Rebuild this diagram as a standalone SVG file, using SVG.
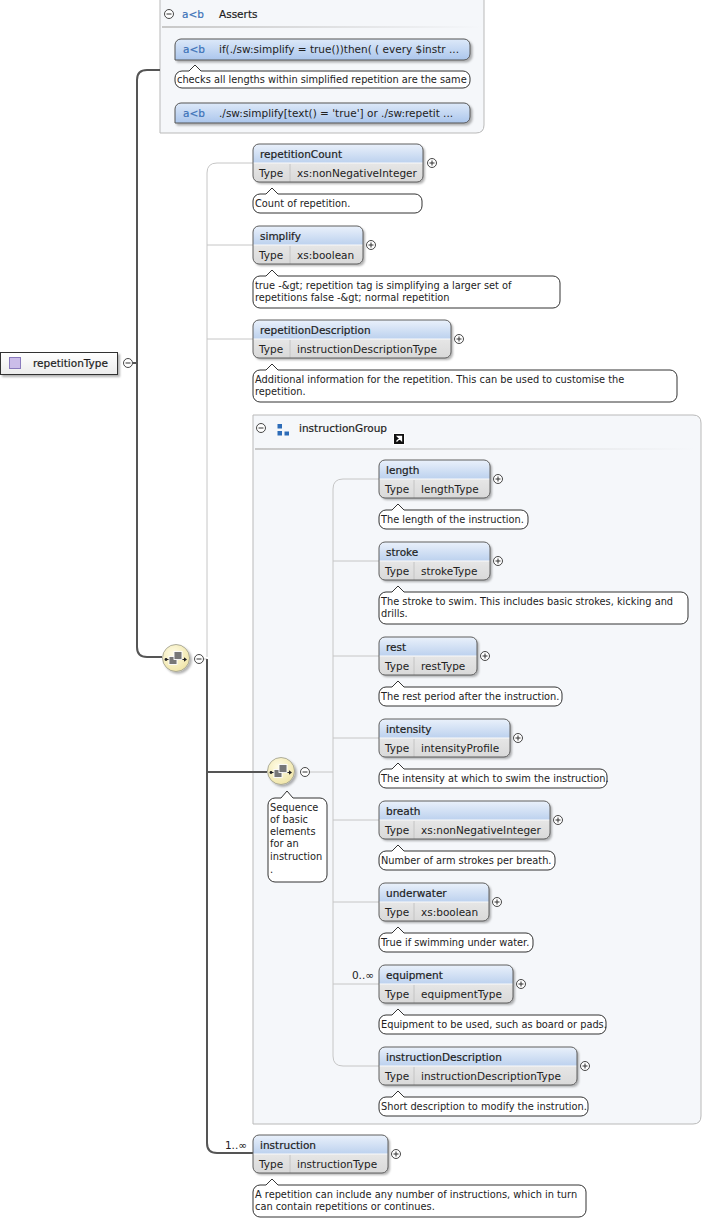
<svg xmlns="http://www.w3.org/2000/svg" width="703" height="1222" viewBox="0 0 703 1222">
<defs>
<linearGradient id="gH" x1="0" y1="0" x2="0" y2="1"><stop offset="0" stop-color="#eaf1fb"/><stop offset="1" stop-color="#bcd1ee"/></linearGradient>
<linearGradient id="gT" x1="0" y1="0" x2="0" y2="1"><stop offset="0" stop-color="#f3f3f3"/><stop offset="1" stop-color="#d9d9d9"/></linearGradient>
<linearGradient id="gA" x1="0" y1="0" x2="0" y2="1"><stop offset="0" stop-color="#dde9f9"/><stop offset="1" stop-color="#abc6ec"/></linearGradient>
<linearGradient id="gR" x1="0" y1="0" x2="0" y2="1"><stop offset="0" stop-color="#ffffff"/><stop offset="1" stop-color="#ececec"/></linearGradient>
<linearGradient id="gS" x1="0" y1="0" x2="1" y2="0"><stop offset="0" stop-color="#c8c8c8"/><stop offset="1" stop-color="#c8c8c8" stop-opacity="0"/></linearGradient>
<radialGradient id="gC" cx="0.4" cy="0.35" r="0.7"><stop offset="0" stop-color="#fffce6"/><stop offset="1" stop-color="#efe4a6"/></radialGradient>
<filter id="sh" x="-10%" y="-20%" width="130%" height="160%"><feDropShadow dx="2" dy="2" stdDeviation="1.2" flood-color="#000" flood-opacity="0.3"/></filter>
<g id="plus"><circle r="4.5" fill="#fff" stroke="#333" stroke-width="0.9"/><path d="M-2.5,0H2.5M0,-2.5V2.5" stroke="#333" stroke-width="1"/></g>
<g id="minus"><circle r="4.5" fill="#fff" stroke="#333" stroke-width="0.9"/><path d="M-2.5,0H2.5" stroke="#333" stroke-width="1"/></g>
<g id="seq">
<circle r="13.5" fill="url(#gC)" stroke="#9a9a8a" stroke-width="0.8" filter="url(#sh)"/>
<path d="M-10,1.5H10" stroke="#222" stroke-width="1"/>
<circle cx="-10" cy="1.5" r="1.4" fill="#222"/><path d="M8,-0.8L11,1.5L8,3.8Z" fill="#222"/>
<rect x="-7" y="-1.5" width="8" height="8" fill="#777" stroke="#fff" stroke-width="0.9"/>
<rect x="-2" y="-6.5" width="8" height="8" fill="#777" stroke="#fff" stroke-width="0.9"/>
</g>
</defs>
<style>
.hd{fill:url(#gH)}
.ty{fill:url(#gT)}
.ol{fill:none;stroke:#5e5e5e;stroke-width:1}
.sp{stroke:#fafafa;stroke-width:1}
.sv{stroke:#c4c4c4;stroke-width:1}
.bub{fill:#fff;stroke:#333;stroke-width:1}
.nm{font-family:"DejaVu Sans",sans-serif;font-size:10.5px;fill:#1e1e1e;stroke:#1e1e1e;stroke-width:0.2}
.tx{font-family:"DejaVu Sans",sans-serif;font-size:10.5px;fill:#222}
.cm{font-family:"DejaVu Sans",sans-serif;font-size:9.8px;fill:#222}
.ab{font-family:"DejaVu Sans",sans-serif;font-size:10.5px;fill:#3c72b8;stroke:#3c72b8;stroke-width:0.2}
.lb{font-family:"DejaVu Sans",sans-serif;font-size:10.5px;fill:#222;text-anchor:end}
.grp{fill:#f5f7fa;stroke:#b9b9b9;stroke-width:1}
.thin{fill:none;stroke:#c6c6c6;stroke-width:1}
.thick{fill:none;stroke:#555;stroke-width:2}
</style>

<!-- group containers -->
<g id="asserts">
<path class="grp" d="M160,-1H484V125Q484,133 476,133H160Z"/>
<use href="#minus" x="169" y="14"/>
<text class="ab" x="182" y="18">a&lt;b</text>
<text class="nm" x="219" y="18">Asserts</text>
<rect x="162" y="26" width="320" height="2" fill="url(#gS)"/>
<g id="assert1">
<path d="M175,60V45A6,6 0 0 1 181,39H464A6,6 0 0 1 470,45V54A6,6 0 0 1 464,60Z" fill="url(#gA)" stroke="#555" filter="url(#sh)"/>
<text class="ab" x="183" y="53">a&lt;b</text>
<text class="tx" x="219" y="53">if(./sw:simplify = true())then( ( every $instr ...</text>
<path class="bub" d="M182,71H189L195,65L201,71H463A7,7 0 0 1 470,78V81A7,7 0 0 1 463,88H182A7,7 0 0 1 175,81V78A7,7 0 0 1 182,71Z"/>
<text class="cm" x="177" y="83">checks all lengths within simplified repetition are the same</text>
</g>
<g id="assert2">
<path d="M175,123V109A6,6 0 0 1 181,103H464A6,6 0 0 1 470,109V117A6,6 0 0 1 464,123Z" fill="url(#gA)" stroke="#555" filter="url(#sh)"/>
<text class="ab" x="183" y="117">a&lt;b</text>
<text class="tx" x="219" y="117">./sw:simplify[text() = 'true'] or ./sw:repetit ...</text>
</g>
</g>

<g id="instructionGroup">
<path class="grp" d="M253,415H693Q701,415 701,423V1116Q701,1124 693,1124H253Z"/>
<use href="#minus" x="261" y="428"/>
<rect x="277.5" y="424" width="4.5" height="4.5" fill="#2d6cb8"/>
<rect x="277.5" y="431" width="4.5" height="4.5" fill="#2d6cb8"/>
<rect x="284.5" y="431.5" width="4.5" height="4" fill="#2d6cb8"/>
<text class="nm" x="299" y="432">instructionGroup</text>
<rect x="393.5" y="433.5" width="11" height="11" fill="#111" stroke="#fff" stroke-width="1"/>
<path d="M396.5,441.5L401,437M397.5,436.5H401.5V440.5Z" stroke="#fff" stroke-width="1.3" fill="#fff"/>
<rect x="255" y="448" width="440" height="2" fill="url(#gS)"/>
</g>

<!-- connectors -->
<g id="connectors">
<path class="thick" d="M160,70H147Q137,70 137,80V647Q137,657 147,657H162"/>
<path class="thick" d="M133,363H137"/>
<path class="thin" d="M204,659H207"/>
<path class="thin" d="M207,657V173Q207,163 217,163H253M207,245H253M207,339H253"/>
<path class="thick" d="M207,659V1143Q207,1153 217,1153H253"/>
<path class="thick" d="M207,772H267"/>
<path class="thin" d="M310,772H333"/>
<path class="thin" d="M379,479H343Q333,479 333,489V1056Q333,1066 343,1066H379M333,561H379M333,656H379M333,738H379M333,820H379M333,902H379M333,984H379"/>
<text class="lb" x="374" y="979">0..∞</text>
<text class="lb" x="247" y="1149">1..∞</text>
</g>

<!-- root -->
<g id="repetitionType">
<rect x="0.5" y="352.5" width="117" height="22" fill="url(#gR)" stroke="#333" filter="url(#sh)"/>
<rect x="9.5" y="357.5" width="11" height="11" fill="#cbbde9" stroke="#8a7bbd"/>
<text class="nm" x="33" y="367">repetitionType</text>
<use href="#minus" x="128" y="363"/>
</g>

<g id="sequence1">
<use href="#seq" x="176" y="658"/>
<use href="#minus" x="199" y="659"/>
</g>

<g id="sequence2">
<use href="#seq" x="281" y="771"/>
<use href="#minus" x="305" y="772"/>
<path class="bub" d="M275,798H281L287,791L293,798H320A7,7 0 0 1 327,805V875A7,7 0 0 1 320,882H275A7,7 0 0 1 268,875V805A7,7 0 0 1 275,798Z"/>
<text class="cm" x="270" y="811">Sequence</text>
<text class="cm" x="270" y="823">of basic</text>
<text class="cm" x="270" y="835">elements</text>
<text class="cm" x="270" y="847">for an</text>
<text class="cm" x="270" y="860">instruction</text>
<text class="cm" x="270" y="873">.</text>
</g>

<g id="repetitionCount">
<rect x="253" y="144" width="170" height="38" rx="6" class="ty" filter="url(#sh)"/>
<path class="hd" d="M253,163V150A6,6 0 0 1 259,144H417A6,6 0 0 1 423,150V163Z"/>
<line class="sp" x1="253" y1="163" x2="423" y2="163"/><line class="sv" x1="290" y1="164" x2="290" y2="182"/>
<rect x="253" y="144" width="170" height="38" rx="6" class="ol"/>
<text class="nm" x="260" y="158">repetitionCount</text>
<text class="tx" x="259" y="177">Type</text><text class="tx" x="297" y="177">xs:nonNegativeInteger</text>
<use href="#plus" x="432" y="163"/>
<path class="bub" d="M260,194H266L272,188L278,194H415A7,7 0 0 1 422,201V206A7,7 0 0 1 415,213H260A7,7 0 0 1 253,206V201A7,7 0 0 1 260,194Z"/>
<text class="cm" x="255" y="207">Count of repetition.</text>
</g>

<g id="simplify">
<rect x="253" y="226" width="110" height="38" rx="6" class="ty" filter="url(#sh)"/>
<path class="hd" d="M253,245V232A6,6 0 0 1 259,226H357A6,6 0 0 1 363,232V245Z"/>
<line class="sp" x1="253" y1="245" x2="363" y2="245"/><line class="sv" x1="290" y1="246" x2="290" y2="264"/>
<rect x="253" y="226" width="110" height="38" rx="6" class="ol"/>
<text class="nm" x="260" y="240">simplify</text>
<text class="tx" x="259" y="259">Type</text><text class="tx" x="297" y="259">xs:boolean</text>
<use href="#plus" x="371" y="245"/>
<path class="bub" d="M260,276H266L272,270L278,276H553A7,7 0 0 1 560,283V301A7,7 0 0 1 553,308H260A7,7 0 0 1 253,301V283A7,7 0 0 1 260,276Z"/>
<text class="cm" x="255" y="289">true -&amp;gt; repetition tag is simplifying a larger set of</text>
<text class="cm" x="255" y="301">repetitions false -&amp;gt; normal repetition</text>
</g>

<g id="repetitionDescription">
<rect x="253" y="320" width="198" height="38" rx="6" class="ty" filter="url(#sh)"/>
<path class="hd" d="M253,339V326A6,6 0 0 1 259,320H445A6,6 0 0 1 451,326V339Z"/>
<line class="sp" x1="253" y1="339" x2="451" y2="339"/><line class="sv" x1="290" y1="340" x2="290" y2="358"/>
<rect x="253" y="320" width="198" height="38" rx="6" class="ol"/>
<text class="nm" x="260" y="334">repetitionDescription</text>
<text class="tx" x="259" y="353">Type</text><text class="tx" x="297" y="353">instructionDescriptionType</text>
<use href="#plus" x="459" y="339"/>
<path class="bub" d="M260,370H266L272,364L278,370H670A7,7 0 0 1 677,377V395A7,7 0 0 1 670,402H260A7,7 0 0 1 253,395V377A7,7 0 0 1 260,370Z"/>
<text class="cm" x="255" y="383">Additional information for the repetition. This can be used to customise the</text>
<text class="cm" x="255" y="395">repetition.</text>
</g>

<g id="length">
<rect x="379" y="460" width="111" height="38" rx="6" class="ty" filter="url(#sh)"/>
<path class="hd" d="M379,479V466A6,6 0 0 1 385,460H484A6,6 0 0 1 490,466V479Z"/>
<line class="sp" x1="379" y1="479" x2="490" y2="479"/><line class="sv" x1="414" y1="480" x2="414" y2="498"/>
<rect x="379" y="460" width="111" height="38" rx="6" class="ol"/>
<text class="nm" x="386" y="474">length</text>
<text class="tx" x="385" y="493">Type</text><text class="tx" x="421" y="493">lengthType</text>
<use href="#plus" x="498" y="479"/>
<path class="bub" d="M386,510H392L398,504L404,510H521A7,7 0 0 1 528,517V522A7,7 0 0 1 521,529H386A7,7 0 0 1 379,522V517A7,7 0 0 1 386,510Z"/>
<text class="cm" x="381" y="523">The length of the instruction.</text>
</g>

<g id="stroke">
<rect x="379" y="542" width="111" height="38" rx="6" class="ty" filter="url(#sh)"/>
<path class="hd" d="M379,561V548A6,6 0 0 1 385,542H484A6,6 0 0 1 490,548V561Z"/>
<line class="sp" x1="379" y1="561" x2="490" y2="561"/><line class="sv" x1="414" y1="562" x2="414" y2="580"/>
<rect x="379" y="542" width="111" height="38" rx="6" class="ol"/>
<text class="nm" x="386" y="556">stroke</text>
<text class="tx" x="385" y="575">Type</text><text class="tx" x="421" y="575">strokeType</text>
<use href="#plus" x="498" y="561"/>
<path class="bub" d="M386,592H392L398,586L404,592H681A7,7 0 0 1 688,599V617A7,7 0 0 1 681,624H386A7,7 0 0 1 379,617V599A7,7 0 0 1 386,592Z"/>
<text class="cm" x="381" y="605">The stroke to swim. This includes basic strokes, kicking and</text>
<text class="cm" x="381" y="617">drills.</text>
</g>

<g id="rest">
<rect x="379" y="637" width="98" height="38" rx="6" class="ty" filter="url(#sh)"/>
<path class="hd" d="M379,656V643A6,6 0 0 1 385,637H471A6,6 0 0 1 477,643V656Z"/>
<line class="sp" x1="379" y1="656" x2="477" y2="656"/><line class="sv" x1="414" y1="657" x2="414" y2="675"/>
<rect x="379" y="637" width="98" height="38" rx="6" class="ol"/>
<text class="nm" x="386" y="651">rest</text>
<text class="tx" x="385" y="670">Type</text><text class="tx" x="421" y="670">restType</text>
<use href="#plus" x="485" y="656"/>
<path class="bub" d="M386,687H392L398,681L404,687H555A7,7 0 0 1 562,694V699A7,7 0 0 1 555,706H386A7,7 0 0 1 379,699V694A7,7 0 0 1 386,687Z"/>
<text class="cm" x="381" y="700">The rest period after the instruction.</text>
</g>

<g id="intensity">
<rect x="379" y="719" width="131" height="38" rx="6" class="ty" filter="url(#sh)"/>
<path class="hd" d="M379,738V725A6,6 0 0 1 385,719H504A6,6 0 0 1 510,725V738Z"/>
<line class="sp" x1="379" y1="738" x2="510" y2="738"/><line class="sv" x1="414" y1="739" x2="414" y2="757"/>
<rect x="379" y="719" width="131" height="38" rx="6" class="ol"/>
<text class="nm" x="386" y="733">intensity</text>
<text class="tx" x="385" y="752">Type</text><text class="tx" x="421" y="752">intensityProfile</text>
<use href="#plus" x="518" y="738"/>
<path class="bub" d="M386,769H392L398,763L404,769H600A7,7 0 0 1 607,776V781A7,7 0 0 1 600,788H386A7,7 0 0 1 379,781V776A7,7 0 0 1 386,769Z"/>
<text class="cm" x="381" y="782">The intensity at which to swim the instruction.</text>
</g>

<g id="breath">
<rect x="379" y="801" width="171" height="38" rx="6" class="ty" filter="url(#sh)"/>
<path class="hd" d="M379,820V807A6,6 0 0 1 385,801H544A6,6 0 0 1 550,807V820Z"/>
<line class="sp" x1="379" y1="820" x2="550" y2="820"/><line class="sv" x1="414" y1="821" x2="414" y2="839"/>
<rect x="379" y="801" width="171" height="38" rx="6" class="ol"/>
<text class="nm" x="386" y="815">breath</text>
<text class="tx" x="385" y="834">Type</text><text class="tx" x="421" y="834">xs:nonNegativeInteger</text>
<use href="#plus" x="558" y="820"/>
<path class="bub" d="M386,851H392L398,845L404,851H548A7,7 0 0 1 555,858V863A7,7 0 0 1 548,870H386A7,7 0 0 1 379,863V858A7,7 0 0 1 386,851Z"/>
<text class="cm" x="381" y="864">Number of arm strokes per breath.</text>
</g>

<g id="underwater">
<rect x="379" y="883" width="110" height="38" rx="6" class="ty" filter="url(#sh)"/>
<path class="hd" d="M379,902V889A6,6 0 0 1 385,883H483A6,6 0 0 1 489,889V902Z"/>
<line class="sp" x1="379" y1="902" x2="489" y2="902"/><line class="sv" x1="414" y1="903" x2="414" y2="921"/>
<rect x="379" y="883" width="110" height="38" rx="6" class="ol"/>
<text class="nm" x="386" y="897">underwater</text>
<text class="tx" x="385" y="916">Type</text><text class="tx" x="421" y="916">xs:boolean</text>
<use href="#plus" x="497" y="902"/>
<path class="bub" d="M386,933H392L398,927L404,933H526A7,7 0 0 1 533,940V945A7,7 0 0 1 526,952H386A7,7 0 0 1 379,945V940A7,7 0 0 1 386,933Z"/>
<text class="cm" x="381" y="946">True if swimming under water.</text>
</g>

<g id="equipment">
<rect x="379" y="965" width="134" height="38" rx="6" class="ty" filter="url(#sh)"/>
<path class="hd" d="M379,984V971A6,6 0 0 1 385,965H507A6,6 0 0 1 513,971V984Z"/>
<line class="sp" x1="379" y1="984" x2="513" y2="984"/><line class="sv" x1="414" y1="985" x2="414" y2="1003"/>
<rect x="379" y="965" width="134" height="38" rx="6" class="ol"/>
<text class="nm" x="386" y="979">equipment</text>
<text class="tx" x="385" y="998">Type</text><text class="tx" x="421" y="998">equipmentType</text>
<use href="#plus" x="521" y="984"/>
<path class="bub" d="M386,1015H392L398,1009L404,1015H599A7,7 0 0 1 606,1022V1027A7,7 0 0 1 599,1034H386A7,7 0 0 1 379,1027V1022A7,7 0 0 1 386,1015Z"/>
<text class="cm" x="381" y="1028">Equipment to be used, such as board or pads.</text>
</g>

<g id="instructionDescription">
<rect x="379" y="1047" width="198" height="38" rx="6" class="ty" filter="url(#sh)"/>
<path class="hd" d="M379,1066V1053A6,6 0 0 1 385,1047H571A6,6 0 0 1 577,1053V1066Z"/>
<line class="sp" x1="379" y1="1066" x2="577" y2="1066"/><line class="sv" x1="414" y1="1067" x2="414" y2="1085"/>
<rect x="379" y="1047" width="198" height="38" rx="6" class="ol"/>
<text class="nm" x="386" y="1061">instructionDescription</text>
<text class="tx" x="385" y="1080">Type</text><text class="tx" x="421" y="1080">instructionDescriptionType</text>
<use href="#plus" x="585" y="1066"/>
<path class="bub" d="M386,1097H392L398,1091L404,1097H581A7,7 0 0 1 588,1104V1109A7,7 0 0 1 581,1116H386A7,7 0 0 1 379,1109V1104A7,7 0 0 1 386,1097Z"/>
<text class="cm" x="381" y="1110">Short description to modify the instrution.</text>
</g>

<g id="instruction">
<rect x="253" y="1135" width="135" height="38" rx="6" class="ty" filter="url(#sh)"/>
<path class="hd" d="M253,1154V1141A6,6 0 0 1 259,1135H382A6,6 0 0 1 388,1141V1154Z"/>
<line class="sp" x1="253" y1="1154" x2="388" y2="1154"/><line class="sv" x1="290" y1="1155" x2="290" y2="1173"/>
<rect x="253" y="1135" width="135" height="38" rx="6" class="ol"/>
<text class="nm" x="260" y="1149">instruction</text>
<text class="tx" x="259" y="1168">Type</text><text class="tx" x="297" y="1168">instructionType</text>
<use href="#plus" x="396" y="1154"/>
<path class="bub" d="M260,1185H266L272,1179L278,1185H579A7,7 0 0 1 586,1192V1210A7,7 0 0 1 579,1217H260A7,7 0 0 1 253,1210V1192A7,7 0 0 1 260,1185Z"/>
<text class="cm" x="255" y="1198">A repetition can include any number of instructions, which in turn</text>
<text class="cm" x="255" y="1210">can contain repetitions or continues.</text>
</g>
</svg>
